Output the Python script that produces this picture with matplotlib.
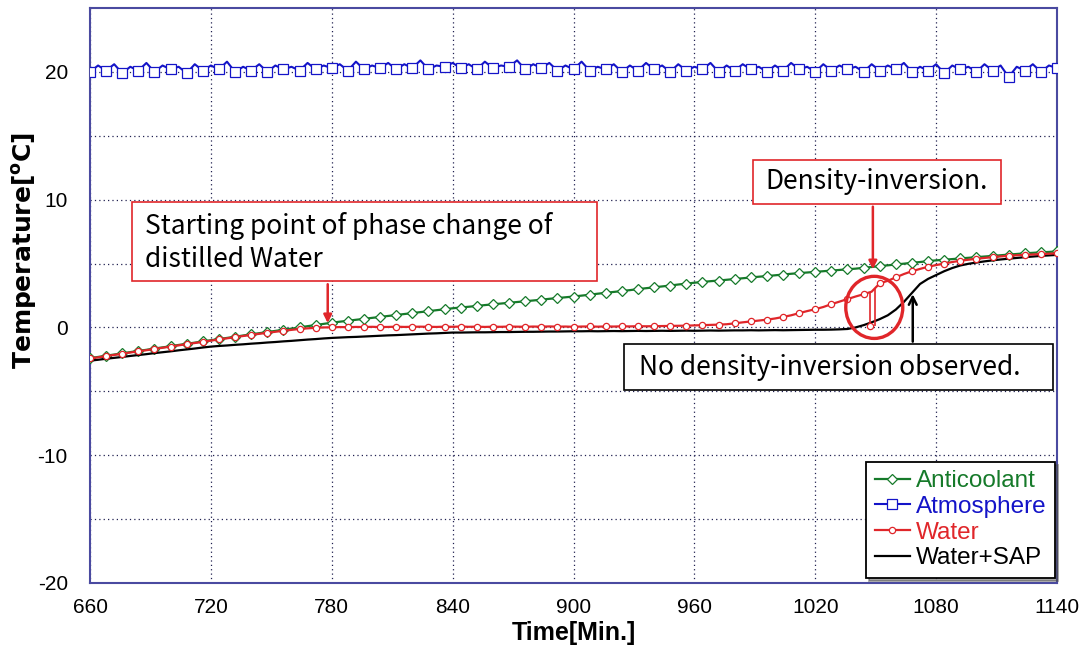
import numpy as np
import matplotlib
matplotlib.use("Agg")
import matplotlib.pyplot as plt
from matplotlib import font_manager
from matplotlib.patches import Ellipse, Rectangle

plt.rcParams['font.family'] = ['Liberation Sans', 'DejaVu Sans']
plt.rcParams['axes.unicode_minus'] = False

# narrow face for tick labels if it is there
try:
    font_manager.findfont('Liberation Sans Narrow', fallback_to_default=False)
    tick_font, tick_size = 'Liberation Sans Narrow', 17
except Exception:
    tick_font, tick_size = 'Liberation Sans', 15

# time axis, one reading every 4 minutes
time = np.arange(660, 1141, 4)

anticoolant = [
    -2.40, -2.31, -2.21, -2.12, -2.03, -1.93, -1.84, -1.75, -1.65, -1.56,
    -1.47, -1.37, -1.28, -1.19, -1.09, -1.00, -0.91, -0.82, -0.73, -0.63,
    -0.54, -0.45, -0.36, -0.27, -0.18, -0.09, 0.00, 0.10, 0.19, 0.28,
    0.37, 0.45, 0.52, 0.60, 0.67, 0.75, 0.82, 0.90, 0.97, 1.05,
    1.12, 1.20, 1.27, 1.35, 1.42, 1.50, 1.56, 1.62, 1.68, 1.75,
    1.81, 1.87, 1.93, 1.99, 2.05, 2.11, 2.17, 2.24, 2.30, 2.36,
    2.42, 2.49, 2.56, 2.64, 2.71, 2.78, 2.85, 2.92, 3.00, 3.07,
    3.14, 3.21, 3.28, 3.36, 3.43, 3.50, 3.56, 3.62, 3.67, 3.73,
    3.79, 3.85, 3.91, 3.97, 4.02, 4.08, 4.14, 4.20, 4.25, 4.30,
    4.35, 4.40, 4.45, 4.50, 4.55, 4.60, 4.67, 4.73, 4.80, 4.86,
    4.93, 4.99, 5.06, 5.12, 5.19, 5.25, 5.30, 5.35, 5.40, 5.45,
    5.50, 5.55, 5.60, 5.65, 5.70, 5.75, 5.80, 5.84, 5.88, 5.91,
    5.95]

atmosphere = [
    20.0, 20.5, 20.1, 20.6, 19.9, 20.4, 20.1, 20.7, 20.0, 20.5,
    20.2, 20.4, 19.9, 20.6, 20.1, 20.5, 20.2, 20.8, 20.0, 20.4,
    20.1, 20.6, 20.0, 20.5, 20.2, 20.4, 20.1, 20.7, 20.2, 20.5,
    20.3, 20.6, 20.1, 20.8, 20.2, 20.5, 20.3, 20.7, 20.2, 20.6,
    20.3, 20.9, 20.2, 20.5, 20.4, 20.7, 20.3, 20.6, 20.2, 20.8,
    20.3, 20.5, 20.4, 20.9, 20.2, 20.6, 20.3, 20.7, 20.1, 20.5,
    20.2, 20.8, 20.1, 20.4, 20.2, 20.6, 20.0, 20.5, 20.1, 20.7,
    20.2, 20.5, 20.0, 20.6, 20.1, 20.4, 20.2, 20.7, 20.0, 20.5,
    20.1, 20.6, 20.2, 20.4, 20.0, 20.5, 20.1, 20.7, 20.2, 20.4,
    20.0, 20.6, 20.1, 20.5, 20.2, 20.4, 20.0, 20.6, 20.1, 20.5,
    20.2, 20.7, 20.0, 20.4, 20.1, 20.6, 19.9, 20.5, 20.2, 20.4,
    20.0, 20.6, 20.1, 20.5, 19.6, 20.4, 20.1, 20.6, 20.0, 20.5,
    20.3]

water = [
    -2.43, -2.34, -2.24, -2.15, -2.06, -1.96, -1.87, -1.78, -1.68, -1.59,
    -1.50, -1.40, -1.31, -1.22, -1.12, -1.03, -0.94, -0.85, -0.76, -0.67,
    -0.58, -0.50, -0.42, -0.34, -0.26, -0.19, -0.12, -0.07, -0.03, 0.00,
    0.01, 0.03, 0.02, 0.04, 0.03, 0.05, 0.03, 0.04, 0.06, 0.04,
    0.05, 0.06, 0.05, 0.04, 0.06, 0.05, 0.07, 0.05, 0.06, 0.04,
    0.06, 0.05, 0.07, 0.06, 0.05, 0.07, 0.06, 0.08, 0.06, 0.07,
    0.05, 0.07, 0.08, 0.06, 0.08, 0.07, 0.09, 0.08, 0.10, 0.09,
    0.10, 0.11, 0.12, 0.13, 0.14, 0.16, 0.18, 0.20, 0.22,
    0.25, 0.32, 0.40, 0.47, 0.54, 0.61, 0.70, 0.82, 0.95, 1.12,
    1.28, 1.43, 1.60, 1.82, 2.02, 2.22, 2.42, 2.60, 2.80, 3.45,
    3.65, 3.92, 4.18, 4.40, 4.58, 4.75, 4.88, 5.00, 5.12, 5.22,
    5.30, 5.37, 5.44, 5.50, 5.56, 5.61, 5.65, 5.68, 5.71, 5.74,
    5.77, 5.80]

# short drops of the water reading (density inversion)
spike_time = [1047.4, 1049.6]
spike_low = [0.10, 0.10]
spike_high = [2.75, 3.10]

water_sap = [
    -2.60, -2.53, -2.45, -2.38, -2.31, -2.23, -2.16, -2.09, -2.01, -1.94,
    -1.87, -1.79, -1.72, -1.65, -1.57, -1.50,
    -1.45, -1.41, -1.36, -1.32, -1.27, -1.23, -1.18, -1.14, -1.09, -1.05,
    -1.00, -0.95, -0.91, -0.86, -0.82,
    -0.79, -0.76, -0.74, -0.71, -0.68, -0.65, -0.62, -0.60, -0.57, -0.54,
    -0.51, -0.48, -0.46, -0.43, -0.40,
    -0.40, -0.39, -0.38, -0.38, -0.37, -0.36, -0.36, -0.35, -0.34, -0.34,
    -0.33, -0.32, -0.32, -0.31, -0.30,
    -0.30, -0.29, -0.30, -0.29, -0.28, -0.29, -0.28, -0.27, -0.28, -0.27,
    -0.26, -0.27, -0.26, -0.25, -0.26, -0.25, -0.24, -0.25, -0.24, -0.23,
    -0.23, -0.22, -0.23, -0.22, -0.21, -0.22, -0.21, -0.20, -0.19, -0.18,
    -0.18, -0.17, -0.15, -0.12,
    0.00, 0.18, 0.40, 0.65, 0.95, 1.40, 2.00, 2.70, 3.40, 3.80,
    4.10, 4.40, 4.65, 4.85, 4.98, 5.08, 5.17, 5.25, 5.32, 5.38,
    5.44, 5.50, 5.55, 5.60, 5.64, 5.68]

green = '#167a2a'
blue = '#1414c8'
red = '#e0262a'

fig = plt.figure(figsize=(10.88, 6.5), dpi=100)
ax = fig.add_axes([90 / 1088, 67 / 650, 967 / 1088, 575 / 650])

ax.plot(time, anticoolant, color=green, lw=1.6, marker='D', ms=5, mfc='white',
        mec=green, mew=0.9, markevery=2, label='Anticoolant', zorder=3)
ax.plot(time, atmosphere, color=blue, lw=1.5, marker='s', ms=6.5, mfc='white',
        mec=blue, mew=0.9, markevery=2, label='Atmosphere', zorder=3)
ax.plot(time, water, color=red, lw=1.6, marker='o', ms=4.5, mfc='white',
        mec=red, mew=0.9, markevery=2, label='Water', zorder=4)
ax.vlines(spike_time, spike_low, spike_high, color=red, lw=1.2, zorder=4)
ax.plot(spike_time[:1], spike_low[:1], ls='none', marker='o', ms=4.5,
        mfc='white', mec=red, mew=0.9, zorder=5)
ax.plot(time, water_sap, color='black', lw=1.6, label='Water+SAP', zorder=3)

ax.set_xlim(660, 1140)
ax.set_ylim(-20, 25)
ax.set_xticks(np.arange(660, 1141, 60))
ax.set_yticks([-20, -10, 0, 10, 20])
ax.set_yticks(np.arange(-15, 25, 10), minor=True)
ax.grid(True, which='both', ls=(0, (1, 2.5)), color='#202050', lw=0.9)
ax.tick_params(which='both', length=0)
ax.tick_params(axis='y', pad=16)
ax.tick_params(axis='x', pad=11)
for lab in ax.get_xticklabels() + ax.get_yticklabels():
    lab.set_family([tick_font, 'Liberation Sans'])
    lab.set_fontsize(tick_size)
for s in ax.spines.values():
    s.set_color('#4a4aa0')
    s.set_linewidth(1.5)

ax.set_xlabel('Time[Min.]', family=[tick_font, 'Liberation Sans'], fontsize=18,
              fontweight='bold', labelpad=3)
ax.set_ylabel('Temperature[$\\mathregular{^o}$C]', family=['DejaVu Sans'],
              fontsize=18, fontweight='bold')
ax.yaxis.set_label_coords(-0.053, 0.579)

leg = ax.legend(loc='lower right', bbox_to_anchor=(0.998, 0.009), borderaxespad=0,
                fontsize=17.5, handlelength=1.45, handletextpad=0.25, labelspacing=0.15,
                fancybox=False, shadow=True, framealpha=1, edgecolor='black',
                borderpad=0.35)
leg.get_frame().set_linewidth(1.3)
for txt, c in zip(leg.get_texts(), [green, blue, red, 'black']):
    txt.set_color(c)

# annotations
afont = ['Noto Sans CJK KR', 'DejaVu Sans']
ax.add_patch(Rectangle((680.8, 3.60), 230.8, 6.18, fill=True, fc='white',
                       ec=red, lw=1.2, zorder=6))
ax.text(687.3, 6.65, 'Starting point of phase change of\ndistilled Water',
        family=afont, fontsize=19, va='center', ha='left', linespacing=1.25, zorder=7)
ax.annotate('', xy=(778, 0.12), xytext=(778, 3.60),
            arrowprops=dict(arrowstyle='-|>', color=red, lw=1.8, mutation_scale=12),
            zorder=7)

ax.add_patch(Rectangle((989.0, 9.67), 123.1, 3.44, fill=True, fc='white',
                       ec=red, lw=1.2, zorder=6))
ax.text(1050.5, 11.4, 'Density-inversion.', family=afont, fontsize=19,
        va='center', ha='center', zorder=7)
ax.annotate('', xy=(1048.6, 4.34), xytext=(1048.6, 9.67),
            arrowprops=dict(arrowstyle='-|>', color=red, lw=1.8, mutation_scale=12),
            zorder=7)

ax.add_patch(Ellipse((1049.3, 1.57), 28.3, 4.86, fill=False, ec=red, lw=2.4, zorder=6))

ax.add_patch(Rectangle((925.0, -4.86), 212.9, 3.53, fill=True, fc='white',
                       ec='black', lw=1.2, zorder=6))
ax.text(1027.2, -3.1, 'No density-inversion observed.', family=afont, fontsize=19,
        va='center', ha='center', zorder=7)
ax.annotate('', xy=(1068.4, 2.82), xytext=(1068.4, -1.33),
            arrowprops=dict(arrowstyle='->', color='black', lw=1.8, mutation_scale=14),
            zorder=7)

fig.savefig('out.png', dpi=100)
